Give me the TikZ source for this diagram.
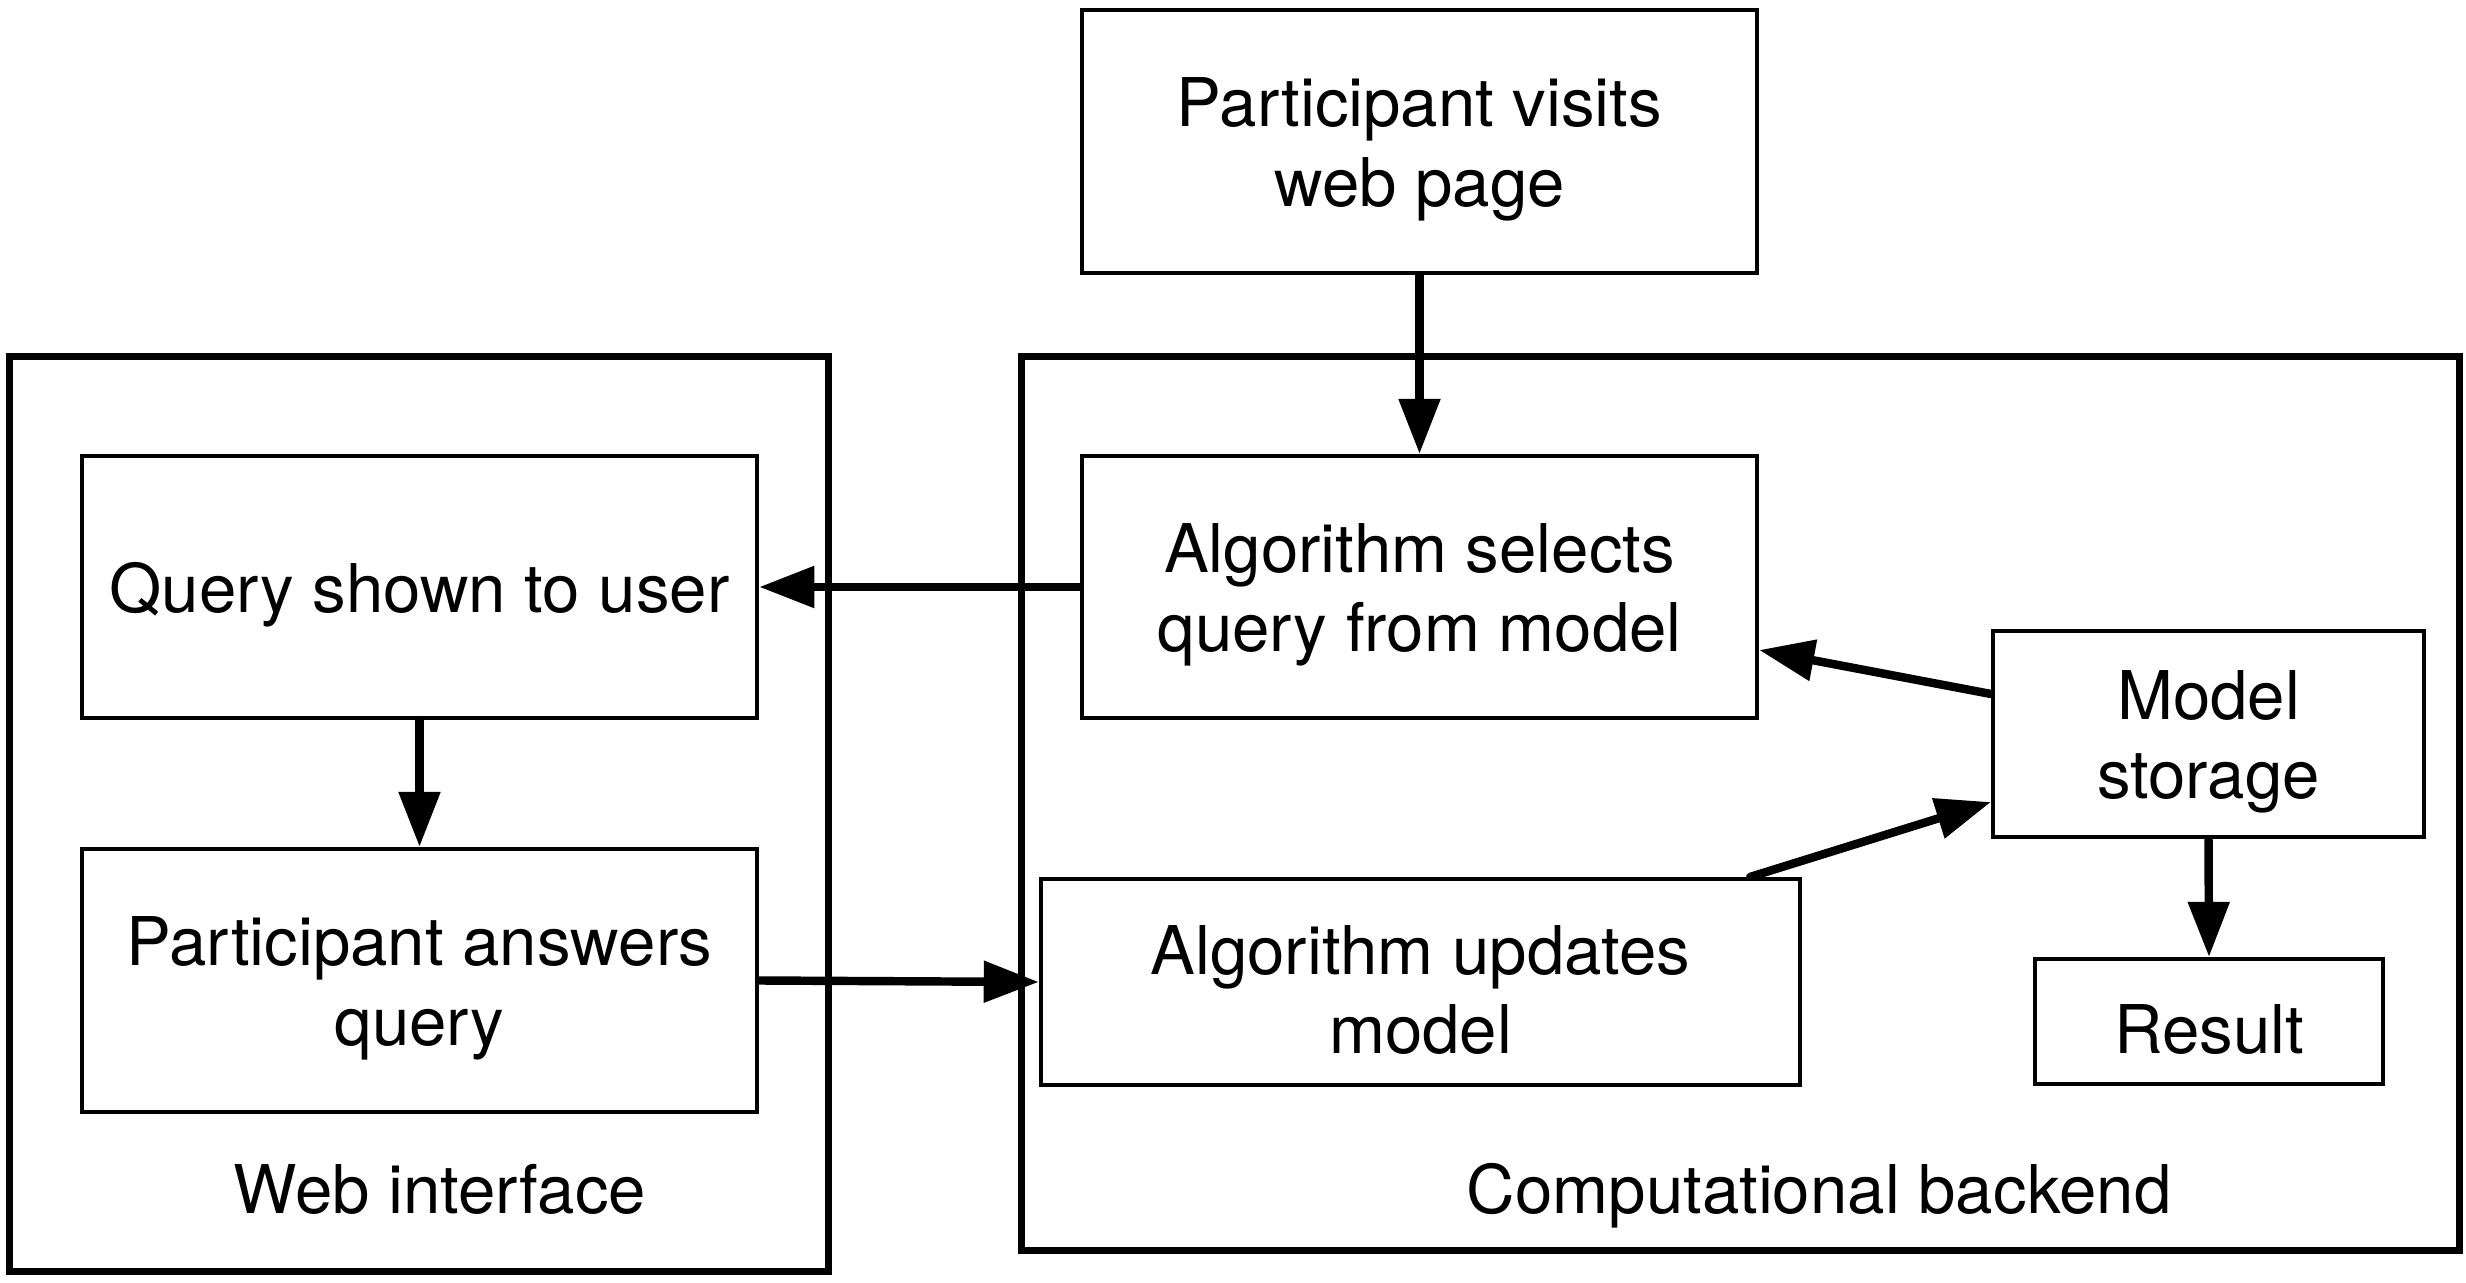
\documentclass[tikz,border=0pt]{standalone}
\usepackage{fontspec}
\setmainfont{TeX Gyre Heros}
\usetikzlibrary{arrows.meta}
\begin{document}
\begin{tikzpicture}[x=0.01cm,y=-0.01cm,
  every node/.style={font=\fontsize{19.1}{22.6}\selectfont},
  box/.style={draw,line width=1.15pt,inner sep=0pt},
  txt/.style={align=center,inner sep=0pt},
  group/.style={draw,line width=2.1pt,inner sep=0pt},
  conn/.style={line width=2.4pt,line cap=round,-{Triangle[length=0.55cm,width=0.4cm]}},
  lbl/.style={anchor=base,inner sep=0pt}]
\useasboundingbox (0,0) rectangle (2466,1283);
\node[group,minimum width=8.18cm,minimum height=9.14cm] (web) at (419,814) {};
\node[group,minimum width=14.37cm,minimum height=8.93cm] (back) at (1740.5,803.5) {};
\node[box,minimum width=6.75cm,minimum height=2.63cm] (visit) at (1419.5,141.5) {};
\node[box,minimum width=6.75cm,minimum height=2.62cm] (query) at (419.5,587) {};
\node[box,minimum width=6.75cm,minimum height=2.63cm] (answer) at (419.5,980.5) {};
\node[box,minimum width=6.75cm,minimum height=2.62cm] (select) at (1419.5,587) {};
\node[box,minimum width=7.59cm,minimum height=2.06cm] (update) at (1420.5,982) {};
\node[box,minimum width=4.31cm,minimum height=2.06cm] (storage) at (2208.5,734) {};
\node[box,minimum width=3.48cm,minimum height=1.25cm] (result) at (2209,1021.5) {};
\node[txt] (visittxt) at ([yshift=-0.08cm]visit.center) {Participant visits\\web page};
\node[txt] (querytxt) at ([yshift=-0.08cm]query.center) {Query shown to user};
\node[txt] (answertxt) at ([yshift=-0.08cm]answer.center) {Participant answers\\query};
\node[txt] (selecttxt) at ([yshift=-0.08cm]select.center) {Algorithm selects\\query from model};
\node[txt] (updatetxt) at ([yshift=-0.08cm]update.center) {Algorithm updates\\model};
\node[txt] (storagetxt) at ([yshift=-0.08cm]storage.center) {Model\\storage};
\node[txt] (resulttxt) at ([yshift=-0.08cm]result.center) {Result};
\node[lbl] (weblbl) at (440,1213) {Web interface};
\node[lbl] (backlbl) at (1819,1213) {Computational backend};
\draw[conn] (visit.south) -- (select.north);
\draw[conn] (select.west) -- (query.east);
\draw[conn] (query.south) -- (answer.north);
\draw[conn] (answer.east) -- (update.west);
\draw[conn] ([yshift=0.40cm]storage.west) -- ([yshift=-0.63cm]select.east);
\draw[conn] ([xshift=-0.52cm]update.north east) -- ([yshift=-0.68cm]storage.west);
\draw[conn] (storage.south) -- (result.north);
\end{tikzpicture}
\end{document}
